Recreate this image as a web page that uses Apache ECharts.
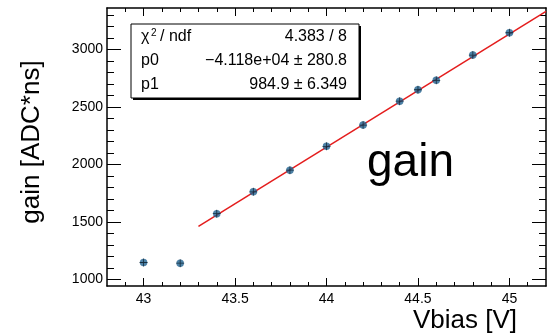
<!DOCTYPE html>
<html>
<head>
<meta charset="utf-8">
<script src="https://cdn.jsdelivr.net/npm/echarts@6/dist/echarts.min.js"></script>
<style>
html,body{margin:0;padding:0;background:#fff;}
#c{width:547px;height:336px;}
</style>
</head>
<body>
<div id="c"></div>
<script>
// ---- data ----
var vbias = [43.0, 43.2, 43.4, 43.6, 43.8, 44.0, 44.2, 44.4, 44.5, 44.6, 44.8, 45.0];
var gain  = [1148, 1142, 1572, 1762, 1950, 2157, 2342, 2550, 2649, 2731, 2950, 3144];
var fitX  = [43.3, 45.2];
var fitY  = [1462, 3330];
var xMajor = [43, 43.5, 44, 44.5, 45];
var xMinor = [42.9, 43.1, 43.2, 43.3, 43.4, 43.6, 43.7, 43.8, 43.9, 44.1, 44.2, 44.3, 44.4, 44.6, 44.7, 44.8, 44.9, 45.1];
var yMajor = [1000, 1500, 2000, 2500, 3000];
var yMinor = [1100, 1200, 1300, 1400, 1600, 1700, 1800, 1900, 2100, 2200, 2300, 2400, 2600, 2700, 2800, 2900, 3100, 3200, 3300];
var statLabels = ['p0', 'p1'];
var statValues = ['4.383 / 8', '\u22124.118e+04 \u00b1 280.8', '984.9 \u00b1 6.349'];
var xRange = [42.8, 45.2];
var yRange = [944, 3359];

var FONT = '"Liberation Sans", Arial, Helvetica, sans-serif';
var chart = echarts.init(document.getElementById('c'), null, {renderer: 'canvas'});

function plain(v) { return String(v); }

function xAx(pos, ticks, len, showLine, showLabel) {
  return {
    type: 'value', position: pos, min: xRange[0], max: xRange[1],
    axisLine: {show: showLine, onZero: false, lineStyle: {color: '#000', width: 1.5}},
    axisTick: {show: true, inside: true, length: len, customValues: ticks, lineStyle: {color: '#000', width: 1}},
    axisLabel: {show: showLabel, customValues: ticks, formatter: plain, color: '#000', fontSize: 14, fontFamily: FONT, margin: 6},
    splitLine: {show: false}
  };
}
function yAx(pos, ticks, len, showLine, showLabel) {
  return {
    type: 'value', position: pos, min: yRange[0], max: yRange[1],
    axisLine: {show: showLine, onZero: false, lineStyle: {color: '#000', width: 1.5}},
    axisTick: {show: true, inside: true, length: len, customValues: ticks, lineStyle: {color: '#000', width: 1}},
    axisLabel: {show: showLabel, customValues: ticks, formatter: plain, color: '#000', fontSize: 14, fontFamily: FONT, margin: 4},
    splitLine: {show: false}
  };
}

var pts = vbias.map(function (v, i) { return [v, gain[i]]; });
var fit = fitX.map(function (v, i) { return [v, fitY[i]]; });

var option = {
  backgroundColor: '#fff',
  animation: false,
  grid: {left: 107, right: 1, top: 8, bottom: 50, containLabel: false},
  xAxis: [
    xAx('bottom', xMajor, 8, true, true),
    xAx('bottom', xMinor, 4, false, false),
    xAx('top', xMajor, 8, true, false),
    xAx('top', xMinor, 4, false, false)
  ],
  yAxis: [
    yAx('left', yMajor, 14, true, true),
    yAx('left', yMinor, 7, false, false),
    yAx('right', yMajor, 14, true, false),
    yAx('right', yMinor, 7, false, false)
  ],
  series: [
    {
      type: 'line', data: fit, xAxisIndex: 0, yAxisIndex: 0,
      showSymbol: false, symbol: 'none',
      lineStyle: {color: '#e41d1d', width: 1.5}, z: 2
    },
    {
      type: 'scatter', data: pts, xAxisIndex: 0, yAxisIndex: 0,
      symbol: 'circle', symbolSize: 7.5,
      itemStyle: {color: '#1f6290'}, z: 3
    },
    {
      type: 'scatter', data: pts, xAxisIndex: 0, yAxisIndex: 0,
      symbol: 'path://M0,4.5H10V5.5H0Z M4.5,0H5.5V10H4.5Z', symbolSize: 8,
      itemStyle: {color: '#0a1a25'}, z: 4
    }
  ],
  graphic: [
    // axis titles
    {type: 'text', x: 32, y: 142, rotation: Math.PI / 2,
     style: {text: 'gain [ADC*ns]', fill: '#000', font: '26px ' + FONT, align: 'center', verticalAlign: 'middle'}},
    {type: 'text', x: 517, y: 321,
     style: {text: 'Vbias [V]', fill: '#000', font: '26px ' + FONT, align: 'right', verticalAlign: 'middle'}},
    {type: 'text', x: 367, y: 163,
     style: {text: 'gain', fill: '#000', font: '46px ' + FONT, align: 'left', verticalAlign: 'middle'}, z: 10},
    // stats box
    {type: 'rect', shape: {x: 133, y: 26, width: 228, height: 74}, style: {fill: '#000'}, z: 20},
    {type: 'rect', shape: {x: 131, y: 24, width: 228, height: 74}, style: {fill: '#fff', stroke: '#000', lineWidth: 1}, z: 21},
    {type: 'text', x: 141, y: 37, style: {text: '\u03c7', fill: '#000', font: '16px ' + FONT, align: 'left', verticalAlign: 'middle'}, z: 22},
    {type: 'text', x: 151, y: 33, style: {text: '2', fill: '#000', font: '10px ' + FONT, align: 'left', verticalAlign: 'middle'}, z: 22},
    {type: 'text', x: 160, y: 37, style: {text: '/ ndf', fill: '#000', font: '16px ' + FONT, align: 'left', verticalAlign: 'middle'}, z: 22},
    {type: 'text', x: 141, y: 61, style: {text: statLabels[0], fill: '#000', font: '16px ' + FONT, align: 'left', verticalAlign: 'middle'}, z: 22},
    {type: 'text', x: 141, y: 85, style: {text: statLabels[1], fill: '#000', font: '16px ' + FONT, align: 'left', verticalAlign: 'middle'}, z: 22},
    {type: 'text', x: 347, y: 37, style: {text: statValues[0], fill: '#000', font: '16px ' + FONT, align: 'right', verticalAlign: 'middle'}, z: 22},
    {type: 'text', x: 347, y: 61, style: {text: statValues[1], fill: '#000', font: '16px ' + FONT, align: 'right', verticalAlign: 'middle'}, z: 22},
    {type: 'text', x: 347, y: 85, style: {text: statValues[2], fill: '#000', font: '16px ' + FONT, align: 'right', verticalAlign: 'middle'}, z: 22}
  ]
};
chart.setOption(option);
</script>
</body>
</html>
